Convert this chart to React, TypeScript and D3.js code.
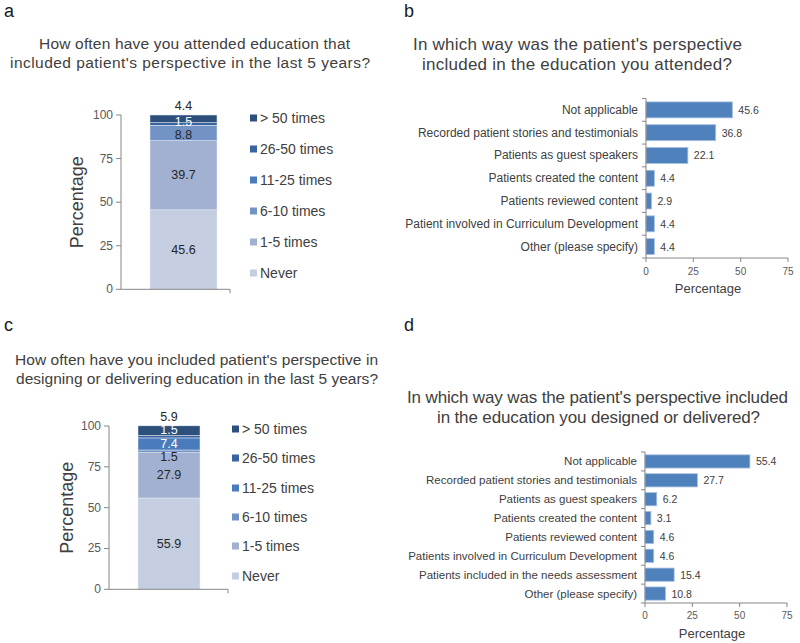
import React from "react";
import * as d3 from "d3";

// ---------- data ----------
const stackCategories = ["Never", "1-5 times", "6-10 times", "11-25 times", "26-50 times", "> 50 times"];
const stackColors = ["#c5cee1", "#a2b1d2", "#7393c6", "#4a7cbd", "#3a64a0", "#2d4f7c"];
const stackLabelColors = ["#262626", "#262626", "#262626", "#ffffff", "#ffffff", "#262626"];
const attendedFreq = [45.6, 39.7, 8.8, 0, 1.5, 4.4];
const deliveredFreq = [55.9, 27.9, 1.5, 7.4, 1.5, 5.9];
const stackTicks = [0, 25, 50, 75, 100];

const attendedWays = [
  "Not applicable",
  "Recorded patient stories and testimonials",
  "Patients as guest speakers",
  "Patients created the content",
  "Patients reviewed content",
  "Patient involved in Curriculum Development",
  "Other (please specify)",
];
const attendedWaysValues = [45.6, 36.8, 22.1, 4.4, 2.9, 4.4, 4.4];

const deliveredWays = [
  "Not applicable",
  "Recorded patient stories and testimonials",
  "Patients as guest speakers",
  "Patients created the content",
  "Patients reviewed content",
  "Patients involved in Curriculum Development",
  "Patients included in the needs assessment",
  "Other (please specify)",
];
const deliveredWaysValues = [55.4, 27.7, 6.2, 3.1, 4.6, 4.6, 15.4, 10.8];
const barTicks = [0, 25, 50, 75];

const FONT = "'Liberation Sans', Arial, Helvetica, sans-serif";
const TEXT = "#404040";
const AXIS = "#868686";
const BAR = "#4f81bd";

type StackProps = {
  values: number[];
  axisX: number;
  top: number;
  bottom: number;
  barX0: number;
  barX1: number;
  axisEnd: number;
  legendX: number;
  legendYs: number[];
  yTitleX: number;
};

function spread(ys: number[], minGap: number): number[] {
  const out = ys.slice();
  for (let it = 0; it < 40; it++) {
    for (let i = 0; i < out.length - 1; i++) {
      const a = out[i], b = out[i + 1];
      const gap = a - b;
      if (gap < minGap) {
        const d = (minGap - gap) / 2;
        out[i] = a + d;
        out[i + 1] = b - d;
      }
    }
  }
  return out;
}

function StackPanel(p: StackProps) {
  const y = d3.scaleLinear().domain([0, 100]).range([p.bottom, p.top]);
  const cums: number[] = [];
  let acc = 0;
  p.values.forEach((v) => { cums.push(acc); acc += v; });
  const n = p.values.length;
  const idx = p.values.map((v, i) => i).filter((i) => i < n - 1 && p.values[i] > 0);
  const centers = idx.map((i) => y(cums[i] + p.values[i] / 2));
  const spreadYs = spread(centers, 13.5);
  const topLabelY = y(Math.min(100, cums[n - 1] + p.values[n - 1])) - 9;
  return (
    <g fontFamily={FONT}>
      {p.values.map((v, i) =>
        v > 0 ? (
          <rect key={i} x={p.barX0} width={p.barX1 - p.barX0} y={y(cums[i] + v)}
            height={y(cums[i]) - y(cums[i] + v)} fill={stackColors[i]}
            stroke="#e8ecf4" strokeWidth={0.5} />
        ) : null
      )}
      {idx.map((i, k) => (
        <text key={i} x={(p.barX0 + p.barX1) / 2} y={spreadYs[k]} textAnchor="middle"
          dominantBaseline="central" fontSize={12.5} fill={stackLabelColors[i]}>
          {p.values[i].toFixed(1)}
        </text>
      ))}
      <text x={(p.barX0 + p.barX1) / 2} y={topLabelY} textAnchor="middle"
        dominantBaseline="central" fontSize={12.5} fill="#262626">
        {p.values[n - 1].toFixed(1)}
      </text>
      <line x1={p.axisX} x2={p.axisX} y1={p.top} y2={p.bottom} stroke={AXIS} />
      <line x1={p.axisX} x2={p.axisEnd} y1={p.bottom} y2={p.bottom} stroke={AXIS} />
      <line x1={p.axisEnd} x2={p.axisEnd} y1={p.bottom} y2={p.bottom + 4} stroke={AXIS} />
      {stackTicks.map((t) => (
        <g key={t}>
          <line x1={p.axisX - 5} x2={p.axisX} y1={y(t)} y2={y(t)} stroke={AXIS} />
          <text x={p.axisX - 8} y={y(t)} textAnchor="end" dominantBaseline="central"
            fontSize={12} fill="#595959">{t}</text>
        </g>
      ))}
      <text transform={`translate(${p.yTitleX},${(p.top + p.bottom) / 2}) rotate(-90)`}
        textAnchor="middle" dominantBaseline="central" fontSize={18} fill={TEXT}>
        Percentage
      </text>
      {stackCategories.map((c, i) => {
        const ly = p.legendYs[i];
        return (
          <g key={c}>
            <rect x={p.legendX} y={ly - 3.5} width={7} height={7} fill={stackColors[i]} />
            <text x={p.legendX + 10} y={ly} dominantBaseline="central" fontSize={14} fill={TEXT}>{c}</text>
          </g>
        );
      })}
    </g>
  );
}

type BarProps = {
  categories: string[];
  values: number[];
  axisX: number;
  x75: number;
  top: number;
  bottom: number;
  tickLabelY: number;
  titleY: number;
  titleX: number;
  catFont: number;
};

function BarPanel(p: BarProps) {
  const x = d3.scaleLinear().domain([0, 75]).range([p.axisX, p.x75]);
  const y = d3.scaleBand().domain(p.categories).range([p.top, p.bottom]).paddingInner(0.3).paddingOuter(0.15);
  const step = (p.bottom - p.top) / p.categories.length;
  return (
    <g fontFamily={FONT}>
      {p.categories.map((c, i) => (
        <g key={c}>
          <rect x={x(0)} y={y(c)!} width={x(p.values[i]) - x(0)} height={y.bandwidth()}
            fill={BAR} stroke="#a7bfdf" strokeWidth={0.8} />
          <text x={x(p.values[i]) + 6} y={y(c)! + y.bandwidth() / 2} dominantBaseline="central"
            fontSize={10.5} fill={TEXT}>{p.values[i].toFixed(1)}</text>
          <text x={p.axisX - 8} y={y(c)! + y.bandwidth() / 2} dominantBaseline="central"
            textAnchor="end" fontSize={p.catFont} fill={TEXT}>{c}</text>
        </g>
      ))}
      <line x1={p.axisX} x2={p.axisX} y1={p.top} y2={p.bottom} stroke={AXIS} />
      {d3.range(p.categories.length + 1).map((i) => (
        <line key={i} x1={p.axisX - 4} x2={p.axisX} y1={p.top + i * step} y2={p.top + i * step} stroke={AXIS} />
      ))}
      <line x1={p.axisX} x2={p.x75} y1={p.bottom} y2={p.bottom} stroke={AXIS} />
      {barTicks.map((t) => (
        <g key={t}>
          <line x1={x(t)} x2={x(t)} y1={p.bottom} y2={p.bottom + 4} stroke={AXIS} />
          <text x={x(t)} y={p.tickLabelY} textAnchor="middle" fontSize={10} fill="#595959">{t}</text>
        </g>
      ))}
      <text x={p.titleX} y={p.titleY} textAnchor="middle" fontSize={13} fill={TEXT}>Percentage</text>
    </g>
  );
}

function Title({ lines }: { lines: { text: string; x0: number; x1: number; y: number; size: number }[] }) {
  return (
    <g fontFamily={FONT} fill={TEXT}>
      {lines.map((l, i) => (
        <text key={i} x={l.x0} y={l.y} fontSize={l.size} textLength={l.x1 - l.x0} lengthAdjust="spacing">
          {l.text}
        </text>
      ))}
    </g>
  );
}

export default function App() {
  return (
    <div style={{ position: "fixed", left: 0, top: 0 }}>
      <svg width={800} height={643} viewBox="0 0 800 643" style={{ display: "block", background: "#fff" }}>
        <rect width={800} height={643} fill="#fff" />
        <g fontFamily={FONT} fontSize={18} fill="#1a1a1a">
          <text x={4} y={17}>a</text>
          <text x={404} y={17}>b</text>
          <text x={4} y={331}>c</text>
          <text x={404} y={331}>d</text>
        </g>

        <Title lines={[
          { text: "How often have you attended education that", x0: 39, x1: 350, y: 49, size: 15.5 },
          { text: "included patient's perspective in the last 5 years?", x0: 10, x1: 370, y: 68, size: 15.5 },
        ]} />
        <StackPanel values={attendedFreq} axisX={121} top={115} bottom={289.3} barX0={150} barX1={217}
          axisEnd={230} legendX={250} legendYs={[273, 242, 211, 180, 149, 118]} yTitleX={77} />

        <Title lines={[
          { text: "In which way was the patient's perspective", x0: 413, x1: 742, y: 50, size: 17 },
          { text: "included in the education you attended?", x0: 422, x1: 732, y: 70, size: 17 },
        ]} />
        <BarPanel categories={attendedWays} values={attendedWaysValues} axisX={646} x75={788}
          top={98.5} bottom={258} tickLabelY={275} titleX={708} titleY={293} catFont={12} />

        <Title lines={[
          { text: "How often have you included patient's perspective in", x0: 15, x1: 378, y: 365, size: 15.5 },
          { text: "designing or delivering education in the last 5 years?", x0: 16, x1: 378, y: 384, size: 15.5 },
        ]} />
        <StackPanel values={deliveredFreq} axisX={109} top={426} bottom={589.3} barX0={138} barX1={200}
          axisEnd={228} legendX={232} legendYs={[576, 546, 517, 488, 458, 429]} yTitleX={67} />

        <Title lines={[
          { text: "In which way was the patient's perspective included", x0: 407, x1: 788, y: 403, size: 17 },
          { text: "in the education you designed or delivered?", x0: 437, x1: 760, y: 423, size: 17 },
        ]} />
        <BarPanel categories={deliveredWays} values={deliveredWaysValues} axisX={645} x75={787}
          top={452} bottom={603} tickLabelY={619} titleX={712} titleY={638} catFont={11.5} />
      </svg>
    </div>
  );
}
